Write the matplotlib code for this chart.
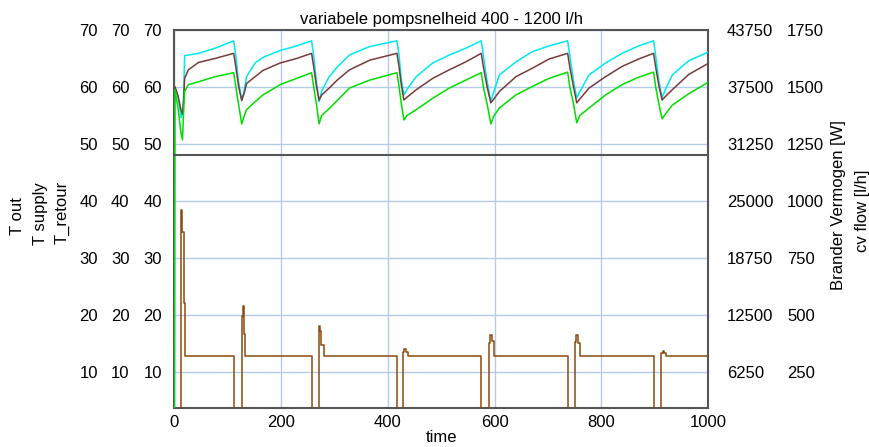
import numpy as np
import matplotlib
matplotlib.use("Agg")
import matplotlib.pyplot as plt

plt.rcParams['font.family'] = ['Liberation Sans', 'DejaVu Sans']
plt.rcParams['font.size'] = 12

time_T = [0, 1, 7, 12, 15, 17, 19, 26, 45, 76, 111,
          115, 120, 126, 131, 135, 151, 166, 198, 229, 257,
          261, 266, 271, 276, 290, 305, 328, 366, 417,
          421, 425, 430, 436, 453, 484, 515, 546, 575,
          579, 586, 593, 598, 609, 640, 671, 702, 737,
          741, 748, 754, 760, 777, 808, 839, 870, 898,
          902, 908, 914, 920, 933, 964, 1000]

T_out = [60.0, 60.0, 58.2, 54.6, 55.5, 58.0, 65.5, 65.6, 65.9, 66.8, 68.1,
         65.5, 61.0, 57.7, 59.5, 61.8, 64.2, 65.2, 66.4, 67.2, 68.1,
         65.5, 61.0, 57.4, 59.3, 61.8, 63.5, 65.6, 67.1, 68.1,
         65.5, 61.5, 58.6, 59.6, 61.8, 64.2, 65.6, 66.8, 68.1,
         65.5, 61.0, 57.4, 59.0, 62.1, 64.4, 66.2, 67.2, 68.1,
         65.5, 61.0, 58.1, 59.2, 62.1, 64.2, 65.9, 67.2, 68.1,
         65.5, 61.0, 58.1, 59.5, 62.1, 64.6, 66.1]

T_supply = [60.0, 60.0, 58.3, 56.0, 55.2, 57.5, 61.5, 63.0, 64.3, 65.0, 65.9,
            63.5, 60.2, 57.6, 59.0, 60.6, 61.8, 62.9, 64.2, 65.0, 65.9,
            63.5, 60.2, 57.7, 58.6, 59.8, 61.2, 63.0, 64.7, 65.9,
            63.5, 60.5, 57.7, 58.2, 59.5, 61.5, 63.0, 64.4, 65.9,
            63.5, 60.0, 57.2, 57.8, 59.2, 61.8, 63.3, 64.9, 65.9,
            63.5, 60.0, 57.2, 57.9, 59.8, 61.8, 63.6, 64.9, 65.9,
            63.5, 60.2, 57.7, 58.3, 59.5, 62.2, 64.1]

T_retour = [0.0, 59.5, 56.0, 52.0, 50.7, 55.5, 59.2, 60.4, 60.9, 61.8, 62.5,
            60.0, 57.0, 53.5, 55.0, 56.0, 57.4, 58.6, 60.4, 61.5, 62.5,
            60.0, 57.0, 53.5, 55.0, 56.2, 57.6, 59.8, 61.2, 62.5,
            60.0, 57.2, 54.2, 55.0, 56.0, 58.0, 59.8, 61.2, 62.5,
            60.0, 57.0, 53.5, 54.8, 56.3, 58.6, 60.1, 61.5, 62.6,
            60.0, 57.0, 53.7, 55.0, 56.3, 58.6, 60.4, 61.7, 62.6,
            60.0, 57.0, 54.4, 55.2, 56.8, 58.8, 60.8]

# brander vermogen [W], trapfunctie
time_P = [0, 12, 15, 17, 19,
          111, 126, 128, 130, 132,
          258, 271, 273, 275, 280,
          418, 429, 431, 434, 437,
          575, 590, 592, 595, 599,
          737, 751, 753, 756, 760,
          898, 912, 915, 918, 921,
          1000]
power = [0, 24000, 21600, 13800, 8000,
         0, 12300, 13400, 10400, 8000,
         0, 11200, 10700, 9200, 8000,
         0, 8400, 8750, 8400, 8000,
         0, 9400, 10300, 9600, 8000,
         0, 9500, 10250, 9400, 8000,
         0, 8300, 8550, 8300, 8000,
         8000]

# cv flow [l/h]
time_F = [0, 1000]
flow = [1200, 1200]

T_ticks = [10, 20, 30, 40, 50, 60, 70]
P_ticks = [6250, 12500, 18750, 25000, 31250, 37500, 43750]
F_ticks = [250, 500, 750, 1000, 1250, 1500, 1750]
x_ticks = [0, 200, 400, 600, 800, 1000]

ymin, ymax = 3.6, 70
gridcol = '#b3ccee'
framecol = '#555555'

fig = plt.figure(figsize=(8.69, 4.47), dpi=100)
ax = fig.add_axes([0.2008, 0.0872, 0.6139, 0.8457])

ax.plot(time_T, T_out, color='#00e8f0', lw=1.1, zorder=3)
ax.plot(time_T, T_supply, color='#7a3a3a', lw=1.1, zorder=3)
ax.plot(time_T, T_retour, color='#00dd00', lw=1.1, zorder=3)

ax.set_xlim(0, 1000)
ax.set_ylim(ymin, ymax)
ax.set_xticks(x_ticks)
ax.set_yticks(T_ticks)
ax.grid(True, color=gridcol, lw=1)
ax.set_axisbelow(True)
ax.tick_params(axis='both', length=0)
ax.tick_params(axis='y', pad=9)
ax.tick_params(axis='x', pad=5)
for s in ax.spines.values():
    s.set_color(framecol)
    s.set_linewidth(1.5)

# extra kolommen met temperatuur labels
for p in [32.4, 55]:
    sec = ax.secondary_yaxis('left')
    sec.set_yticks(T_ticks)
    sec.tick_params(length=0, pad=p)
    sec.spines['left'].set_visible(False)

# vermogen
axp = ax.twinx()
axp.step(time_P, power, where='post', color='#8b4a0c', lw=1.1)
axp.set_ylim(ymin * 625, ymax * 625)
axp.set_yticks(P_ticks)
axp.tick_params(length=0, pad=13.7)
for s in axp.spines.values():
    s.set_visible(False)

# flow
axf = ax.twinx()
axf.plot(time_F, flow, color=framecol, lw=1.5)
axf.set_ylim(ymin * 25, ymax * 25)
axf.set_yticks(F_ticks)
axf.tick_params(length=0, pad=57)
for s in axf.spines.values():
    s.set_visible(False)

ax.set_title("variabele pompsnelheid 400 - 1200 l/h", fontsize=12, pad=4)
ax.set_xlabel("time", labelpad=0)

fig.text(17 / 869, 1 - 216 / 447, "T out", rotation=90, ha='center', va='center')
fig.text(41 / 869, 1 - 214 / 447, "T supply", rotation=90, ha='center', va='center')
fig.text(62 / 869, 1 - 212 / 447, "T_retour", rotation=90, ha='center', va='center')
fig.text(838 / 869, 1 - 205 / 447, "Brander Vermogen [W]", rotation=90, ha='center', va='center')
fig.text(862 / 869, 1 - 211 / 447, "cv flow [l/h]", rotation=90, ha='center', va='center')

plt.savefig("out.png", dpi=100)
plt.close()
